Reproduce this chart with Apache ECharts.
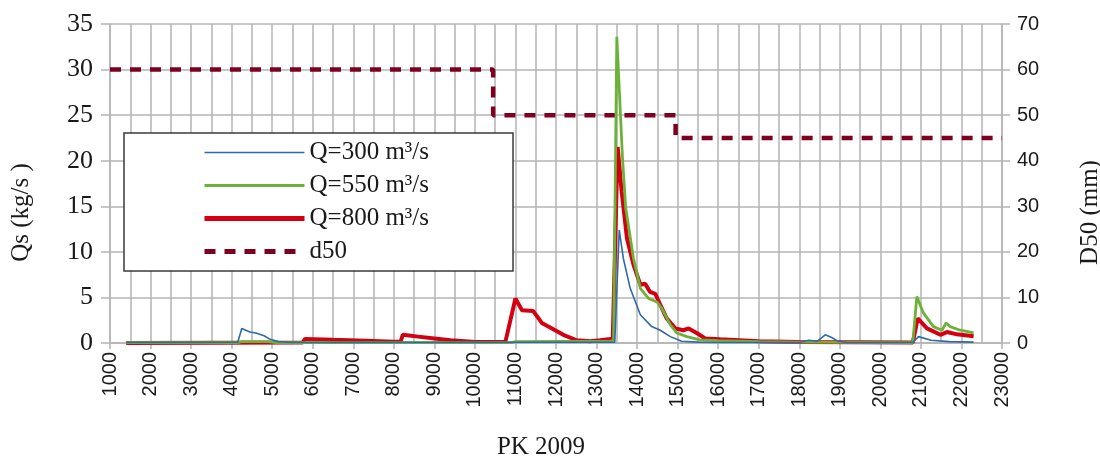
<!DOCTYPE html>
<html>
<head>
<meta charset="utf-8">
<script src="https://cdn.jsdelivr.net/npm/echarts@6/dist/echarts.min.js"></script>
<style>html,body{margin:0;padding:0;background:#fff}#c{width:1100px;height:459px}</style>
</head>
<body>
<div id="c"></div>
<script>
// Series names
var seriesNames = ['Q=300 m³/s', 'Q=550 m³/s', 'Q=800 m³/s', 'd50'];

// [PK, Qs] pairs
var q300 = [[1400,0.05],[3000,0.05],[4150,0.08],[4250,1.6],[4450,1.2],[4600,1.1],[4800,0.8],[4950,0.4],[5150,0.15],[5500,0.05],
  [13450,0.1],[13560,12.4],[13660,9.3],[13830,6.0],[14080,3.1],[14360,1.8],[14570,1.4],[14820,0.7],[15100,0.2],[15500,0.1],[16000,0.05],
  [18000,0.05],[18230,0.3],[18450,0.2],[18640,0.9],[18800,0.6],[18950,0.2],[19200,0.05],[20800,0.05],[20940,0.7],[21250,0.3],[21700,0.15],[22300,0.1]];
var q550 = [[1400,0.05],[4150,0.05],[4250,0.15],[4900,0.15],[5100,0.05],[10900,0.05],[11000,0.15],[13350,0.2],[13420,0.3],
  [13500,33.6],[13640,20.3],[13720,14.8],[13910,9.3],[14080,6.0],[14280,4.9],[14490,4.5],[14610,3.8],[14820,2.0],[14980,1.1],[15230,0.7],[15550,0.35],
  [16000,0.25],[17000,0.15],[18000,0.1],[20800,0.05],[20900,5.1],[21060,3.3],[21310,1.8],[21520,1.4],[21620,2.2],[21720,1.8],[21970,1.4],[22300,1.1]];
var q800 = [[1400,0.0],[5750,0.05],[5810,0.45],[6500,0.35],[7300,0.25],[8000,0.15],[8170,0.15],[8220,0.9],[8600,0.7],[9000,0.5],[9400,0.3],[10000,0.1],[10750,0.1],
  [11000,4.9],[11160,3.6],[11440,3.5],[11650,2.2],[11900,1.6],[12180,0.9],[12510,0.3],[12840,0.2],[13090,0.3],[13290,0.4],[13400,0.5],
  [13520,21.5],[13620,16.6],[13750,11.5],[13910,8.6],[14080,6.4],[14200,6.5],[14320,5.6],[14450,5.4],[14570,4.2],[14730,2.7],[14940,1.6],[15140,1.4],[15270,1.6],[15470,1.1],[15680,0.5],[16050,0.4],
  [17000,0.2],[18000,0.1],[20800,0.05],[20920,2.7],[21150,1.6],[21480,0.9],[21640,1.2],[21890,0.95],[22300,0.75]];
// [PK, D50 mm]
var d50 = [[1000,60],[10450,60],[10450,50],[14950,50],[14950,45],[23000,45]];

var colors = {q300: '#2f6aa8', q550: '#6cb23a', q800: '#d40012', d50: '#7e0021'};
var widths = {q300: 1.6, q550: 2.8, q800: 4, d50: 4.5};
var gridColor = '#b4b4b4';
var txt = '#1a1a1a';
var chart = echarts.init(document.getElementById('c'));
chart.setOption({
  animation: false,
  grid: {left: 110, right: 98, top: 24, bottom: 116, containLabel: false, outerBoundsMode: 'none'},
  legend: {
    orient: 'vertical', left: 124, top: 133,
    padding: [7, 84, 7, 78],
    itemWidth: 100, itemHeight: 14, itemGap: 8,
    backgroundColor: '#fff', borderColor: '#3a3a3a', borderWidth: 1.5,
    itemStyle: {opacity: 0},
    data: [
      {name: seriesNames[0], lineStyle: {width: 1.6}},
      {name: seriesNames[1], lineStyle: {width: 3}},
      {name: seriesNames[2], lineStyle: {width: 5}},
      {name: seriesNames[3], lineStyle: {width: 5, type: [11, 9]}}
    ],
    textStyle: {fontFamily: 'Liberation Serif', fontSize: 25, lineHeight: 25, color: txt}
  },
  xAxis: {
    type: 'value', min: 1000, max: 23000, interval: 1000,
    name: 'PK 2009', nameLocation: 'middle', nameGap: 92,
    nameTextStyle: {fontFamily: 'Liberation Serif', fontSize: 25, color: txt, padding: [0, 30, 0, 0]},
    axisLine: {lineStyle: {color: gridColor, width: 1.5}},
    axisTick: {show: true, length: 6, lineStyle: {color: gridColor, width: 1.5}},
    axisLabel: {rotate: 90, margin: 9, fontFamily: 'Liberation Sans', fontSize: 20, color: txt,
      formatter: function (v) { return String(v); }},
    splitLine: {show: true, lineStyle: {color: gridColor, width: 1.5}},
    minorTick: {show: false, splitNumber: 2},
    minorSplitLine: {show: true, lineStyle: {color: gridColor, width: 1.5}}
  },
  yAxis: [{
    type: 'value', min: 0, max: 35, interval: 5,
    name: 'Qs (kg/s )', nameLocation: 'middle', nameRotate: 90, nameGap: 76,
    nameTextStyle: {fontFamily: 'Liberation Serif', fontSize: 25, color: txt, padding: [0, 58, 0, 0]},
    axisLine: {show: true, lineStyle: {color: gridColor, width: 1.5}},
    axisTick: {show: true, length: 9, lineStyle: {color: gridColor, width: 1.5}},
    axisLabel: {margin: 17, fontFamily: 'Liberation Serif', fontSize: 26, color: txt},
    splitLine: {show: true, lineStyle: {color: gridColor, width: 1.5}}
  }, {
    type: 'value', min: 0, max: 70, interval: 10, position: 'right',
    name: 'D50 (mm)', nameLocation: 'middle', nameRotate: 90, nameGap: 76,
    nameTextStyle: {fontFamily: 'Liberation Serif', fontSize: 25, color: txt, padding: [0, 58, 0, 0]},
    axisLine: {show: true, lineStyle: {color: gridColor, width: 1.5}},
    axisTick: {show: true, length: 8, lineStyle: {color: gridColor, width: 1.5}},
    axisLabel: {margin: 15, fontFamily: 'Liberation Sans', fontSize: 20, color: txt},
    splitLine: {show: false}
  }],
  series: [
    {name: seriesNames[3], type: 'line', yAxisIndex: 1, data: d50, symbol: 'none',
     lineStyle: {color: colors.d50, width: widths.d50, type: [11, 9], cap: 'butt'}, itemStyle: {color: colors.d50}},
    {name: seriesNames[2], type: 'line', data: q800, symbol: 'none',
     lineStyle: {color: colors.q800, width: widths.q800}, itemStyle: {color: colors.q800}},
    {name: seriesNames[1], type: 'line', data: q550, symbol: 'none',
     lineStyle: {color: colors.q550, width: widths.q550}, itemStyle: {color: colors.q550}},
    {name: seriesNames[0], type: 'line', data: q300, symbol: 'none',
     lineStyle: {color: colors.q300, width: widths.q300}, itemStyle: {color: colors.q300}}
  ]
});
</script>
</body>
</html>
